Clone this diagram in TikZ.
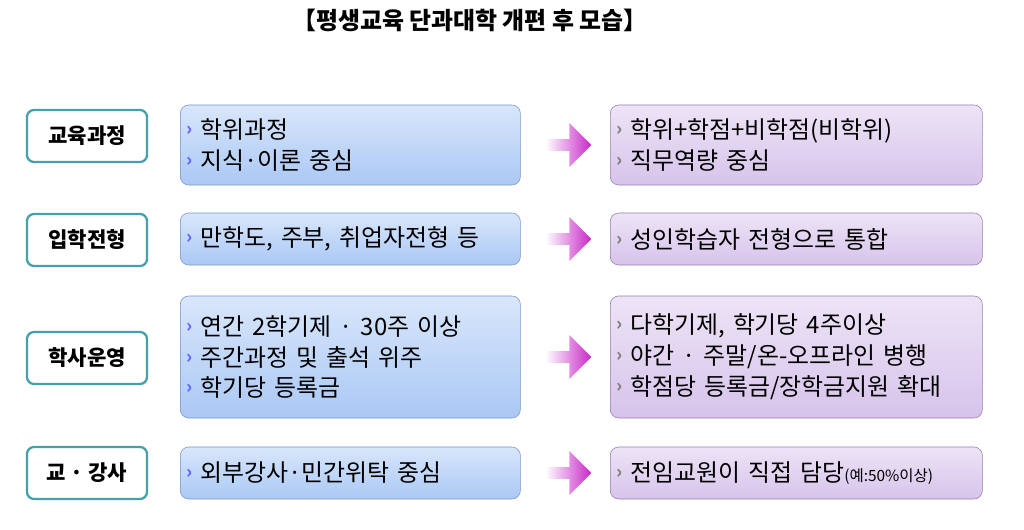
\documentclass[tikz,border=0pt]{standalone}
\usepackage{fontspec}
\setmainfont{Noto Sans CJK KR}
\usetikzlibrary{shapes.arrows,positioning,calc}
\definecolor{tealline}{RGB}{70,160,170}
\definecolor{bluefill}{RGB}{170,200,245}
\definecolor{blueline}{RGB}{120,150,200}
\definecolor{purpfill}{RGB}{215,195,235}
\definecolor{purpline}{RGB}{150,125,175}
\definecolor{arrmag}{RGB}{200,40,200}
\begin{document}
\begin{tikzpicture}[x=0.025cm,y=-0.025cm,
  every node/.style={font=\fontsize{17}{22}\selectfont},
  lbl/.style={draw=tealline, line width=1.6pt, rounded corners=5pt, fill=white, minimum width=3cm, minimum height=1.3cm, font=\fontsize{15}{18}\selectfont\bfseries},
  oldbox/.style={draw=blueline, rounded corners=6pt, top color=bluefill!45, bottom color=bluefill, text width=8.2cm, align=left, anchor=west, inner xsep=0.15cm, inner ysep=4pt},
  newbox/.style={draw=purpline, rounded corners=6pt, top color=purpfill!45, bottom color=purpfill, text width=9cm, align=left, anchor=west, inner xsep=0.15cm, inner ysep=4pt},
  flow/.style={single arrow, single arrow head extend=6pt, minimum height=1.15cm, minimum width=1.1cm, inner sep=2pt, left color=white, right color=arrmag, draw=none},
]
\useasboundingbox (0,0) rectangle (1024,530);
\newcommand{\bo}{{\color{blue!60}\fontsize{13}{13}\selectfont\bfseries\raisebox{0.3ex}{›}}\ }
\newcommand{\bn}{{\color{gray}\fontsize{13}{13}\selectfont\bfseries\raisebox{0.3ex}{›}}\ }
\node[font=\fontsize{17}{20}\selectfont\bfseries] (title) at (470,20) {【평생교육 단과대학 개편 후 모습】};
% rows
\node[lbl] (l1) at (87,136) {교육과정};
\node[lbl] (l2) at (87,240) {입학전형};
\node[lbl] (l3) at (87,358) {학사운영};
\node[lbl] (l4) at (87,473) {교 · 강사};
\node[oldbox, minimum height=2cm] (o1) at (180,145) {\bo 학위과정\\\bo 지식·이론 중심};
\node[oldbox, minimum height=1.3cm] (o2) at (180,239) {\bo 만학도, 주부, 취업자전형 등};
\node[oldbox, minimum height=3.05cm] (o3) at (180,357) {\bo 연간 2학기제 · 30주 이상\\\bo 주간과정 및 출석 위주\\\bo 학기당 등록금};
\node[oldbox, minimum height=1.3cm] (o4) at (180,473) {\bo 외부강사·민간위탁 중심};
\node[newbox, minimum height=2cm] (n1) at (610,145) {\bn 학위+학점+비학점(비학위)\\\bn 직무역량 중심};
\node[newbox, minimum height=1.3cm] (n2) at (610,239) {\bn 성인학습자 전형으로 통합};
\node[newbox, minimum height=3.05cm] (n3) at (610,357) {\bn 다학기제, 학기당 4주이상\\\bn 야간 · 주말/온-오프라인 병행\\\bn 학점당 등록금/장학금지원 확대};
\node[newbox, minimum height=1.3cm] (n4) at (610,473) {\bn 전임교원이 직접 담당{\fontsize{11}{13}\selectfont(예:50\%이상)}};
\foreach \i in {1,...,4}{
  \node[flow] (a\i) at ($(o\i.east)!0.5!(n\i.west)$) {};
}
\end{tikzpicture}
\end{document}
